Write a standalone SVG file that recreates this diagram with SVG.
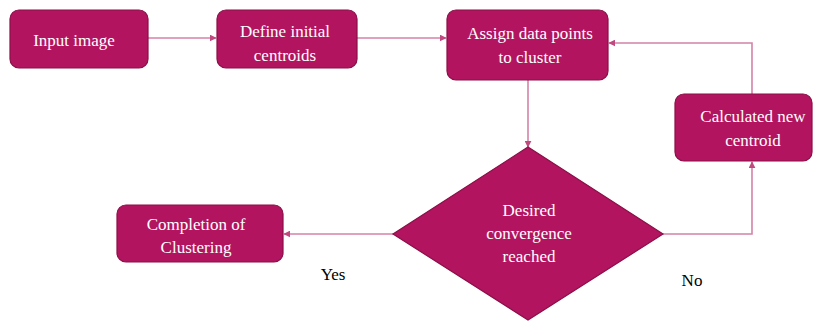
<svg xmlns="http://www.w3.org/2000/svg" width="817" height="322" viewBox="0 0 817 322">
<style>
.node{fill:#B3145F;stroke:#8A0E47;stroke-width:1.2}
.t{fill:#FFFFFF}
.lbl{fill:#000000}
.c{fill:none;stroke:#D482A8;stroke-width:1.6}
</style>
<defs>
<marker id="ah" viewBox="0 0 10 10" refX="9" refY="5" markerWidth="7" markerHeight="7" orient="auto" markerUnits="userSpaceOnUse">
<path d="M0,0 L10,5 L0,10 z" fill="#C0497F"/>
</marker>
</defs>
<rect width="817" height="322" fill="#FFFFFF"/>
<g id="connectors">
<path class="c" d="M148,38 H216" marker-end="url(#ah)"/>
<path class="c" d="M357,38 H446" marker-end="url(#ah)"/>
<path class="c" d="M528,80 V147" marker-end="url(#ah)"/>
<path class="c" d="M393,234 H284" marker-end="url(#ah)"/>
<path class="c" d="M663,234 H752 V162" marker-end="url(#ah)"/>
<path class="c" d="M752,94 V43 H609" marker-end="url(#ah)"/>
</g>
<g font-family="Liberation Serif, DejaVu Serif, serif" font-size="17" text-anchor="middle">
<g id="input-image">
<rect class="node" x="10" y="10" width="138" height="58" rx="9"/>
<text class="t" x="74" y="46">Input image</text>
</g>
<g id="define-centroids">
<rect class="node" x="217" y="10" width="140" height="58" rx="9"/>
<text class="t" x="285" y="37">Define initial</text>
<text class="t" x="285" y="61">centroids</text>
</g>
<g id="assign-points">
<rect class="node" x="447" y="10" width="161" height="70" rx="9"/>
<text class="t" x="530" y="39">Assign data points</text>
<text class="t" x="530" y="63">to cluster</text>
</g>
<g id="calc-centroid">
<rect class="node" x="675" y="94" width="137" height="67" rx="9"/>
<text class="t" x="753" y="122">Calculated new</text>
<text class="t" x="753" y="146">centroid</text>
</g>
<g id="convergence">
<polygon class="node" points="528,147 663,234 528,320 393,234"/>
<text class="t" x="529" y="216">Desired</text>
<text class="t" x="529" y="239">convergence</text>
<text class="t" x="529" y="262">reached</text>
</g>
<g id="completion">
<rect class="node" x="117" y="205" width="166" height="57" rx="9"/>
<text class="t" x="196" y="230">Completion of</text>
<text class="t" x="196" y="253">Clustering</text>
</g>
<g id="labels">
<text class="lbl" x="333" y="280">Yes</text>
<text class="lbl" x="692" y="286">No</text>
</g>
</g>
</svg>
